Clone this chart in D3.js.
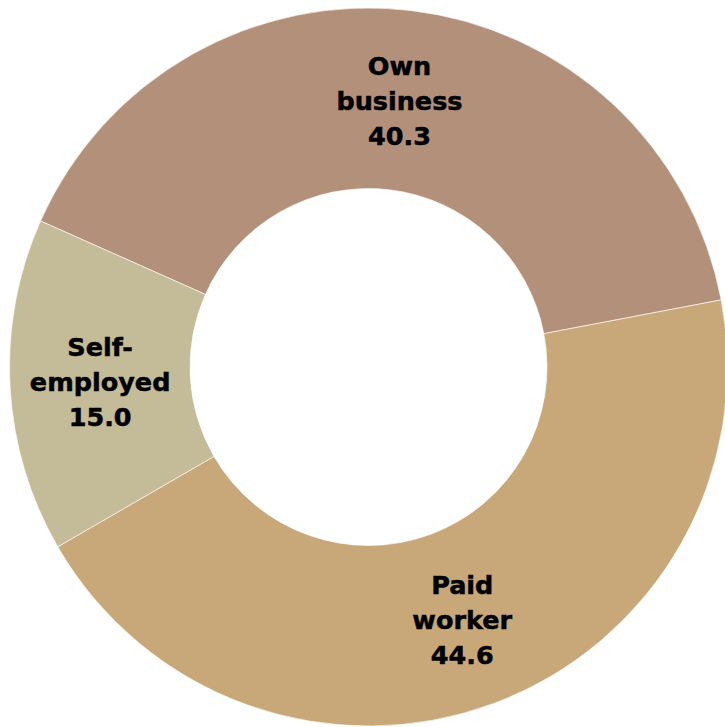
<!DOCTYPE html>
<html>
<head>
<meta charset="utf-8">
<script src="https://cdn.jsdelivr.net/npm/d3@7"></script>
<style>
  html, body { margin: 0; padding: 0; background: #fff; }
  svg { display: block; }
</style>
</head>
<body>
<svg id="chart" width="725" height="727"></svg>
<script>
// Employment type shares (%)
const categories = ["Own business", "Paid worker", "Self-employed"];
const labelLines = [["Own", "business"], ["Paid", "worker"], ["Self-", "employed"]];
const values = [40.3, 44.6, 15.0];
const colors = ["#B39079", "#C8A878", "#C4BC98"];

const width = 725, height = 727;
const cx = 368.5, cy = 367;
const outerR = 359, innerR = 178.5;
const startDeg = -66;

const svg = d3.select("#chart");
const g = svg.append("g").attr("transform", `translate(${cx},${cy})`);

const data = categories.map((c, i) => ({ name: c, lines: labelLines[i], value: values[i], color: colors[i] }));

const pie = d3.pie()
  .sort(null)
  .value(d => d.value)
  .startAngle(startDeg * Math.PI / 180)
  .endAngle((startDeg + 360) * Math.PI / 180);

const arc = d3.arc().innerRadius(innerR).outerRadius(outerR);

const arcs = pie(data);

g.selectAll("path.slice")
  .data(arcs)
  .join("path")
  .attr("class", "slice")
  .attr("d", arc)
  .attr("fill", d => d.data.color)
  .attr("stroke", "#fff")
  .attr("stroke-width", 0.6);

const lineH = 35;
const labels = g.selectAll("text.label")
  .data(arcs)
  .join("text")
  .attr("class", "label")
  .attr("transform", d => {
    const [x, y] = arc.centroid(d);
    return `translate(${x},${y})`;
  })
  .attr("text-anchor", "middle")
  .attr("font-family", "Tahoma, Verdana, 'DejaVu Sans', sans-serif")
  .attr("font-weight", "bold")
  .attr("font-size", 25.5)
  .attr("fill", "#000")
  .attr("stroke", "#000")
  .attr("stroke-width", 0.5);

labels.each(function(d) {
  const t = d3.select(this);
  const lines = [...d.data.lines, d.data.value.toFixed(1)];
  lines.forEach((s, i) => {
    t.append("tspan")
      .attr("x", 0)
      .attr("y", (i - 1) * lineH)
      .attr("dy", "0.38em")
      .text(s);
  });
});
</script>
</body>
</html>
